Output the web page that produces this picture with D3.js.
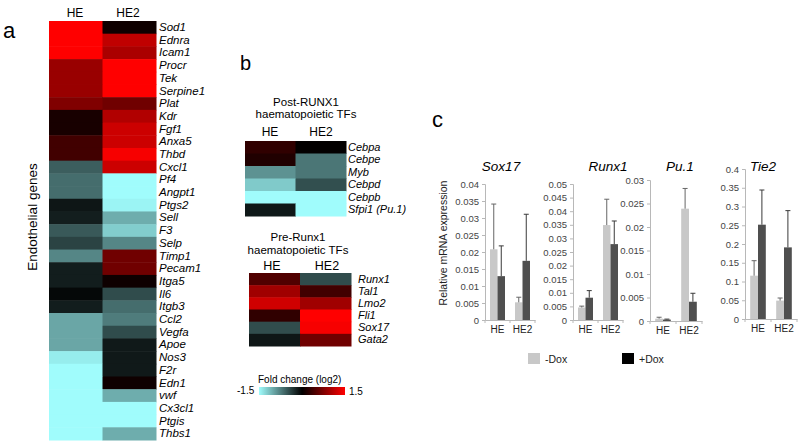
<!DOCTYPE html>
<html><head><meta charset="utf-8">
<script src="https://cdn.jsdelivr.net/npm/d3@7"></script>
<style>
body{margin:0;background:#fff;}
svg{display:block;font-family:Arial,"Liberation Sans",sans-serif;}
</style></head>
<body><svg id="c" width="800" height="447"></svg>
<script>
// ---------- DATA ----------
const heatCols = ["HE","HE2"];
const endoGenes = ["Sod1","Ednra","Icam1","Procr","Tek","Serpine1","Plat","Kdr","Fgf1","Anxa5","Thbd","Cxcl1","Pf4","Angpt1","Ptgs2","Sell","F3","Selp","Timp1","Pecam1","Itga5","Il6","Itgb3","Ccl2","Vegfa","Apoe","Nos3","F2r","Edn1","vwf","Cx3cl1","Ptgis","Thbs1"];
const endoHE  = [1.5,1.5,1.5,0.9,0.9,0.9,0.75,0.14,0.14,0.38,0.38,-0.56,-0.65,-0.65,-0.13,-0.18,-0.53,-0.4,-0.8,-0.17,-0.17,-0.05,-0.17,-0.99,-0.99,-0.99,-1.41,-1.5,-1.5,-1.5,-1.5,-1.5,-1.5];
const endoHE2 = [0.09,1.13,1.0,1.5,1.5,1.5,0.66,1.04,1.2,1.2,1.45,1.2,-1.5,-1.5,-1.45,-1.03,-1.22,-0.8,0.66,0.66,0.08,-0.45,-0.65,-0.74,-0.45,-0.15,-0.15,-0.15,0.09,-1.03,-1.5,-1.5,-1.03];
const postGenes = ["Cebpa","Cebpe","Myb","Cebpd","Cebpb","Sfpi1 (Pu.1)"];
const postHE  = [0.28,0.19,-0.87,-1.2,-1.5,-0.14];
const postHE2 = [0.02,-0.7,-0.7,-0.47,-1.5,-1.5];
const preGenes = ["Runx1","Tal1","Lmo2","Fli1","Sox17","Gata2"];
const preHE  = [0.47,0.94,1.22,0.28,-0.46,-0.13];
const preHE2 = [-0.45,0.38,0.94,1.5,1.45,0.66];
const colorDomain = [-1.5,0,1.5];
const colorRange = ["#a0fcfc","#000000","#ff0000"];

const barCats = ["HE","HE2"];
const barSeries = ["-Dox","+Dox"];
const sox17Minus = [0.0208,0.0052], sox17MinusErr = [0.0133,0.0015];
const sox17Plus  = [0.0129,0.0174], sox17PlusErr  = [0.0089,0.0137];
const runx1Minus = [0.0046,0.0349], runx1MinusErr = [0.0005,0.0095];
const runx1Plus  = [0.0082,0.0279], runx1PlusErr  = [0.0026,0.0085];
const pu1Minus = [0.0005,0.0239], pu1MinusErr = [0.0003,0.0043];
const pu1Plus  = [0.0003,0.0041], pu1PlusErr  = [0.0001,0.0018];
const tie2Minus = [0.1155,0.049], tie2MinusErr = [0.040,0.007];
const tie2Plus  = [0.2515,0.191], tie2PlusErr  = [0.0925,0.098];
const sox17Ticks = [0,0.005,0.01,0.015,0.02,0.025,0.03,0.035,0.04];
const runx1Ticks = [0,0.005,0.01,0.015,0.02,0.025,0.03,0.035,0.04,0.045,0.05];
const pu1Ticks = [0,0.005,0.01,0.015,0.02,0.025,0.03];
const tie2Ticks = [0,0.05,0.1,0.15,0.2,0.25,0.3,0.35,0.4];

// ---------- DRAW ----------
const svg = d3.select("#c");
const color = d3.scaleLinear().domain(colorDomain).range(colorRange);

function heatmap(genes, he, he2, x0, x1, y0, y1, labelX, headerY, headerFont, headerX, labelFont){
  const g = svg.append("g");
  const x = d3.scaleBand().domain(heatCols).range([x0,x1]);
  const y = d3.scaleBand().domain(genes).range([y0,y1]);
  const cells = [];
  genes.forEach((gn,i)=>{cells.push({c:"HE",g:gn,v:he[i]});cells.push({c:"HE2",g:gn,v:he2[i]});});
  g.selectAll("rect").data(cells).join("rect")
    .attr("x",d=>x(d.c)).attr("y",d=>y(d.g))
    .attr("width",x.bandwidth()+0.5).attr("height",y.bandwidth()+0.5)
    .attr("fill",d=>color(d.v));
  const ax = g.append("g").attr("transform",`translate(${labelX},0)`)
    .call(d3.axisRight(y).tickSize(0).tickPadding(0));
  ax.select(".domain").remove();
  ax.selectAll("text").attr("font-style","italic").attr("font-size",labelFont)
    .attr("font-family","Arial, Liberation Sans, sans-serif").attr("fill","#000");
  g.selectAll("text.hdr").data(heatCols).join("text").attr("class","hdr")
    .attr("x",(d,i)=>headerX[i]).attr("y",headerY)
    .attr("text-anchor","middle").attr("font-size",headerFont).text(d=>d);
}

// Panel a
heatmap(endoGenes, endoHE, endoHE2, 49, 156, 21, 440, 159, 17, 12, [75,128], 11.5);
svg.append("text").attr("x",3).attr("y",38).attr("font-size",22).text("a");
svg.append("text").attr("transform","translate(37,217) rotate(-90)")
  .attr("text-anchor","middle").attr("font-size",13.5).text("Endothelial genes");

// Panel b
svg.append("text").attr("x",240).attr("y",70).attr("font-size",20).text("b");
svg.append("text").attr("x",306).attr("y",106).attr("text-anchor","middle").attr("font-size",11.5).text("Post-RUNX1");
svg.append("text").attr("x",306).attr("y",118).attr("text-anchor","middle").attr("font-size",11.5).text("haematopoietic TFs");
heatmap(postGenes, postHE, postHE2, 245, 346, 141, 216, 348, 136, 12, [270,321], 11);
svg.append("text").attr("x",298).attr("y",241).attr("text-anchor","middle").attr("font-size",11.5).text("Pre-Runx1");
svg.append("text").attr("x",298).attr("y",254).attr("text-anchor","middle").attr("font-size",11.5).text("haematopoietic TFs");
heatmap(preGenes, preHE, preHE2, 249, 351, 273, 346, 358, 270, 12.5, [272,327], 11);

// colour legend
const defs = svg.append("defs");
const grad = defs.append("linearGradient").attr("id","fc");
colorDomain.forEach((d,i)=>grad.append("stop").attr("offset",(d-colorDomain[0])/(colorDomain[2]-colorDomain[0])).attr("stop-color",colorRange[i]));
svg.append("rect").attr("x",259).attr("y",387).attr("width",86).attr("height",8).attr("fill","url(#fc)");
svg.append("text").attr("x",258).attr("y",383).attr("font-size",10).text("Fold change (log2)");
svg.append("text").attr("x",237).attr("y",394).attr("font-size",10).text("-1.5");
svg.append("text").attr("x",349).attr("y",395).attr("font-size",10).text("1.5");

// Panel c
svg.append("text").attr("x",432).attr("y",127).attr("font-size",22).text("c");
svg.append("text").attr("transform","translate(447,243) rotate(-90)")
  .attr("text-anchor","middle").attr("font-size",10.5).attr("fill","#222").text("Relative mRNA expression");

const barColors = ["#c8c8c8","#4f4f4f"];
const fmt = d => d===0 ? "0" : String(+d.toFixed(4));

function barChart(title, titleX, minus, minusErr, plus, plusErr, ticks, ax0, ax1, yTop, yZero){
  const g = svg.append("g");
  const x = d3.scaleBand().domain(barCats).range([ax0,ax1]).paddingInner(0.4).paddingOuter(0.2);
  const xs = d3.scaleBand().domain(barSeries).range([0,x.bandwidth()]);
  const y = d3.scaleLinear().domain([0,ticks[ticks.length-1]]).range([yZero,yTop]);
  const data = [];
  barCats.forEach((c,i)=>{
    data.push({c,s:"-Dox",v:minus[i],e:minusErr[i],k:0});
    data.push({c,s:"+Dox",v:plus[i],e:plusErr[i],k:1});
  });
  const ya = g.append("g").attr("transform",`translate(${ax0},0)`)
    .call(d3.axisLeft(y).tickValues(ticks).tickFormat(fmt).tickSize(3).tickPadding(3));
  ya.select(".domain").attr("stroke","#b8b8b8");
  ya.selectAll(".tick line").attr("stroke","#b8b8b8");
  ya.selectAll("text").attr("font-size",9.5).attr("fill","#444").attr("font-family","Arial, Liberation Sans, sans-serif");
  g.selectAll("rect.bar").data(data).join("rect").attr("class","bar")
    .attr("x",d=>x(d.c)+xs(d.s)).attr("width",xs.bandwidth())
    .attr("y",d=>y(d.v)).attr("height",d=>yZero-y(d.v))
    .attr("fill",d=>barColors[d.k]);
  const eb = g.selectAll("g.eb").data(data).join("g").attr("class","eb");
  const cx = d=>x(d.c)+xs(d.s)+xs.bandwidth()/2;
  eb.append("line").attr("x1",cx).attr("x2",cx)
    .attr("y1",d=>y(d.v)).attr("y2",d=>y(d.v+d.e)).attr("stroke",d=>d.k?"#3a3a3a":"#666").attr("stroke-width",1);
  eb.append("line").attr("x1",d=>cx(d)-2.5).attr("x2",d=>cx(d)+2.5)
    .attr("y1",d=>y(d.v+d.e)).attr("y2",d=>y(d.v+d.e)).attr("stroke",d=>d.k?"#3a3a3a":"#666").attr("stroke-width",1);
  const xa = g.append("g").attr("transform",`translate(0,${yZero})`)
    .call(d3.axisBottom(x).tickSize(0).tickPadding(6));
  xa.select(".domain").attr("stroke","#b8b8b8");
  xa.selectAll("text").attr("font-size",10).attr("fill","#222").attr("font-family","Arial, Liberation Sans, sans-serif");
  const bounds = [ax0, (x("HE")+x.bandwidth()+x("HE2"))/2, ax1];
  g.selectAll("line.xt").data(bounds).join("line").attr("class","xt")
    .attr("x1",d=>d).attr("x2",d=>d).attr("y1",yZero).attr("y2",yZero+3).attr("stroke","#b8b8b8");
  g.append("text").attr("x",titleX).attr("y",171).attr("text-anchor","middle")
    .attr("font-size",13.5).attr("font-style","italic").text(title);
}

barChart("Sox17", 501, sox17Minus, sox17MinusErr, sox17Plus, sox17PlusErr, sox17Ticks, 485, 535, 184, 320);
barChart("Runx1", 608, runx1Minus, runx1MinusErr, runx1Plus, runx1PlusErr, runx1Ticks, 573, 623, 184, 320);
barChart("Pu.1", 680, pu1Minus, pu1MinusErr, pu1Plus, pu1PlusErr, pu1Ticks, 650, 702, 180, 321);
barChart("Tie2", 763, tie2Minus, tie2MinusErr, tie2Plus, tie2PlusErr, tie2Ticks, 745, 797, 169, 319);

// bar legend
const lg = svg.append("g");
const legX = [528, 622];
const legColors = ["#c8c8c8","#000000"];
lg.selectAll("rect").data(barSeries).join("rect")
  .attr("x",(d,i)=>legX[i]).attr("y",353).attr("width",12).attr("height",11)
  .attr("fill",(d,i)=>legColors[i]);
lg.selectAll("text").data(barSeries).join("text")
  .attr("x",(d,i)=>legX[i]+17).attr("y",363).attr("font-size",10.5).attr("fill","#222").text(d=>d);
</script></body></html>
